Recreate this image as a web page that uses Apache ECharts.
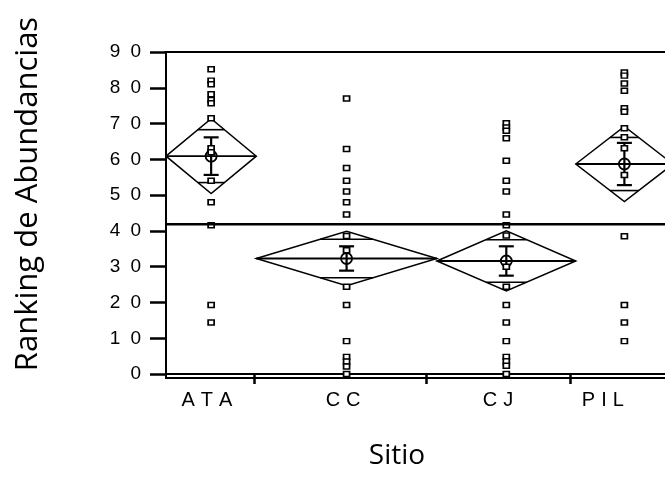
<!DOCTYPE html>
<html>
<head>
<meta charset="utf-8">
<script src="https://cdn.jsdelivr.net/npm/echarts@6/dist/echarts.min.js"></script>
<style>html,body{margin:0;padding:0;background:#fff;overflow:hidden;}#chart{width:665px;height:492px;}</style>
</head>
<body>
<div id="chart"></div>
<script>
// ---- data ----
const categories = ['ATA', 'CC', 'CJ', 'PIL'];
const groupSizes = [13, 26, 20, 14];
const groupMeans = [60.9, 32.3, 31.6, 58.7];
const ciHalfWidths = [10.45, 7.6, 8.4, 10.5];
const stdErrors = [5.25, 3.4, 4.1, 5.9];
const grandMean = 41.9;
const ataValues = [85.2, 82.0, 81.0, 78.2, 76.6, 75.7, 71.5, 63.1, 62.0, 54.0, 48.0, 41.6, 19.3, 14.4];
const ccValues = [77.0, 62.9, 57.6, 54.0, 51.0, 48.0, 44.6, 38.6, 34.6, 24.4, 19.3, 9.2, 4.8, 3.5, 2.1, 0];
const cjValues = [70.1, 68.9, 68.0, 65.9, 59.6, 54.0, 51.0, 44.6, 41.6, 38.7, 30.0, 24.4, 19.3, 14.4, 9.2, 4.8, 3.6, 2.3, 0];
const pilValues = [84.3, 83.4, 81.2, 79.2, 74.3, 73.3, 68.7, 66.2, 63.1, 55.6, 38.5, 19.3, 14.4, 9.2];
const yTicks = [0, 10, 20, 30, 40, 50, 60, 70, 80, 90];
const yTitle = 'Ranking de Abundancias';
const xTitle = 'Sitio';

// ---- derived layout (from data) ----
const groupValues = [ataValues, ccValues, cjValues, pilValues];
const starts = [];
let acc = 0;
groupSizes.forEach(n => { starts.push(acc); acc += n; });
const xMax = acc;
const centers = groupSizes.map((n, i) => starts[i] + n / 2);

// styling nudges
const tickNudge = [-0.35, -1.55, -0.85];
const labelNudge = [-0.6, -0.5, -1.2, -3.1];
const tickPositions = starts.slice(1).map((s, i) => s + tickNudge[i]);
const labelPositions = centers.map((c, i) => c + labelNudge[i]);

function spaced(text, key) {
  const chars = text.split('');
  return chars.map((c, i) => '{' + (i < chars.length - 1 ? key : key + 'e') + '|' + c + '}').join('');
}

const pointData = [];
groupValues.forEach((vals, i) => vals.forEach(v => pointData.push([centers[i], v])));

const chart = echarts.init(document.getElementById('chart'), null, {renderer: 'canvas'});
const option = {
  animation: false,
  backgroundColor: '#fff',
  grid: {left: 166, top: 52, width: 507, bottom: 114, outerBoundsMode: 'none', containLabel: false,
    show: true, borderColor: '#000', borderWidth: 2, backgroundColor: 'transparent'},
  xAxis: {
    type: 'value', min: 0, max: xMax,
    splitLine: {show: false},
    axisLine: {show: true, lineStyle: {color: '#000', width: 2}},
    axisTick: {show: true, customValues: tickPositions, length: 10, inside: false, lineStyle: {color: '#000', width: 2.5}},
    axisLabel: {
      show: true, customValues: labelPositions, margin: 12,
      formatter: function (value) {
        const i = labelPositions.findIndex(p => Math.abs(p - value) < 1e-6);
        return i >= 0 ? spaced(categories[i], 'x') : '';
      },
      rich: {
        x: {fontFamily: 'Liberation Sans', fontSize: 20, color: '#000', padding: [0, 6, 0, 0]},
        xe: {fontFamily: 'Liberation Sans', fontSize: 20, color: '#000'}
      }
    }
  },
  yAxis: {
    type: 'value', min: -1.1, max: 90,
    splitLine: {show: false},
    axisLine: {show: true, lineStyle: {color: '#000', width: 1.7}},
    axisTick: {show: true, customValues: yTicks, length: 16, lineStyle: {color: '#000', width: 2.5}},
    axisLabel: {
      show: true, customValues: yTicks, margin: 25,
      formatter: function (value) { return spaced(String(value), 'y'); },
      rich: {
        y: {fontFamily: 'Liberation Sans', fontSize: 19, color: '#000', padding: [0, 10, 0, 0]},
        ye: {fontFamily: 'Liberation Sans', fontSize: 19, color: '#000'}
      }
    }
  },
  graphic: [
    {type: 'text', x: 28, y: 194, rotation: Math.PI / 2,
      style: {text: yTitle, align: 'center', verticalAlign: 'middle', fontFamily: 'Open Sans', fontSize: 31, fill: '#000'}},
    {type: 'text', x: 397, y: 456,
      style: {text: xTitle, align: 'center', verticalAlign: 'middle', fontFamily: 'Open Sans', fontSize: 28, fill: '#000'}}
  ],
  series: [
    {
      type: 'custom',
      data: categories.map((c, i) => i),
      clip: false,
      renderItem: function (params, api) {
        const i = params.dataIndex;
        const l = starts[i], r = starts[i] + groupSizes[i], c = centers[i];
        const m = groupMeans[i], h = ciHalfWidths[i], se = stdErrors[i];
        const P = (x, y) => api.coord([x, y]);
        const pl = P(l, m), pr = P(r, m), pt = P(c, m + h), pb = P(c, m - h), pc = P(c, m);
        const children = [];
        children.push({type: 'polygon', shape: {points: [pl, pt, pr, pb]}, style: {fill: 'none', stroke: '#000', lineWidth: 1.5}});
        children.push({type: 'line', shape: {x1: pl[0], y1: pl[1], x2: pr[0], y2: pr[1]}, style: {stroke: '#000', lineWidth: 1.8}});
        const k = 1 / Math.SQRT2;
        const hw = (groupSizes[i] / 2) * (1 - k);
        [m + h * k, m - h * k].forEach(yv => {
          const a = P(c - hw, yv), b = P(c + hw, yv);
          children.push({type: 'line', shape: {x1: a[0], y1: a[1], x2: b[0], y2: b[1]}, style: {stroke: '#000', lineWidth: 1.6}});
        });
        const et = P(c, m + se), eb = P(c, m - se);
        children.push({type: 'line', shape: {x1: et[0], y1: et[1], x2: eb[0], y2: eb[1]}, style: {stroke: '#000', lineWidth: 2.2}});
        [et, eb].forEach(p => children.push({type: 'line', shape: {x1: p[0] - 7.5, y1: p[1], x2: p[0] + 7.5, y2: p[1]}, style: {stroke: '#000', lineWidth: 2.2}}));
        children.push({type: 'circle', shape: {cx: pc[0], cy: pc[1], r: 5.5}, style: {fill: 'none', stroke: '#000', lineWidth: 1.8}});
        return {type: 'group', children: children};
      },
      z: 2
    },
    {
      type: 'scatter',
      data: pointData,
      symbol: 'rect',
      symbolSize: [6, 5],
      itemStyle: {color: '#fff', borderColor: '#000', borderWidth: 1.6, opacity: 1},
      z: 3
    },
    {
      type: 'line',
      data: [[0, grandMean], [xMax, grandMean]],
      symbol: 'none',
      lineStyle: {color: '#000', width: 2.5},
      silent: true,
      z: 4
    }
  ]
};
chart.setOption(option);
</script>
</body>
</html>
